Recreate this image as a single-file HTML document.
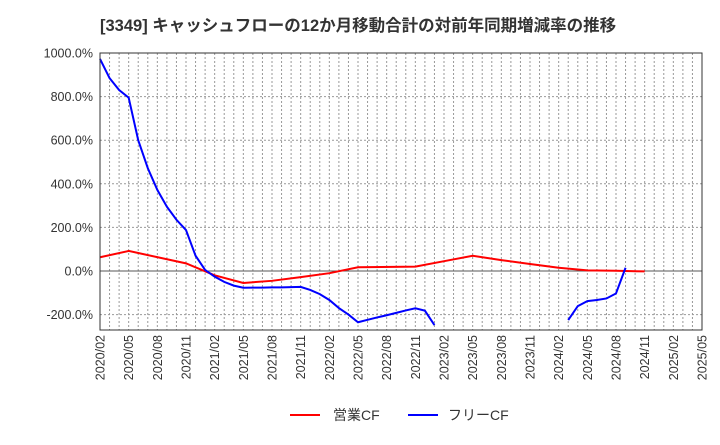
<!DOCTYPE html>
<html><head><meta charset="utf-8"><style>
body{margin:0;background:#fff;width:720px;height:440px;overflow:hidden;font-family:"Liberation Sans","Noto Sans CJK JP",sans-serif;}
</style></head><body>
<svg id="chart" width="720" height="440" xmlns="http://www.w3.org/2000/svg" font-family="Liberation Sans, Noto Sans CJK JP, sans-serif">
<text x="100" y="31" font-size="16.5" font-weight="bold" fill="#333">[3349]  キャッシュフローの12か月移動合計の対前年同期増減率の推移</text>
<g id="grid"></g>
<g id="series"></g>
<g id="axes"></g>
<g>
<line x1="290" y1="415" x2="320" y2="415" stroke="#f00" stroke-width="2"/>
<text x="333" y="420" font-size="14" fill="#333">営業CF</text>
<line x1="408" y1="415" x2="438" y2="415" stroke="#00f" stroke-width="2"/>
<text x="448" y="420" font-size="14" fill="#333">フリーCF</text>
</g>
</svg>
<script>
const yTicks=[1000,800,600,400,200,0,-200];
const xLabels=["2020/02","2020/05","2020/08","2020/11","2021/02","2021/05","2021/08","2021/11","2022/02","2022/05","2022/08","2022/11","2023/02","2023/05","2023/08","2023/11","2024/02","2024/05","2024/08","2024/11","2025/02","2025/05"];
const opMonths=[0,3,9,12,15,18,21,24,27,33,36,39,42,45,48,51,54,57];
const opValues=[63,92,35,-20,-55,-45,-28,-10,17,20,45,70,50,32,15,3,1,-2];
const fcfValues=[973,885,830,795,600,472,372,295,235,188,70,5,-26,-50,-67,-77,-76,-76,-75,-75,-74,-73,-87,-106,-133,-170,-200,-235,-224,-213,-203,-192,-181,-171,-182,-248,null,null,null,null,null,null,null,null,null,null,null,null,null,-225,-161,-138,-133,-126,-103,15];
const NS="http://www.w3.org/2000/svg";
const L=100,R=702,T=53,B=330,months=63;
const xs=m=>L+(R-L)*m/months;
const ys=v=>271-(271-53)*v/1000;
function mk(tag,attrs,parent){const e=document.createElementNS(NS,tag);for(const k in attrs)e.setAttribute(k,attrs[k]);parent.appendChild(e);return e;}
const grid=document.getElementById('grid'),axes=document.getElementById('axes'),ser=document.getElementById('series');
for(let m=1;m<months;m++){const l=mk('line',{x1:xs(m),x2:xs(m),y1:T,y2:B,stroke:'#999','stroke-dasharray':'2,2','stroke-width':1},grid);

}
yTicks.forEach(v=>{const y=ys(v);
const l=mk('line',{x1:L,x2:R,y1:y,y2:y,stroke:v===0?'#555':'#999','stroke-dasharray':v===0?'':'2,2','stroke-width':1},grid);


const t=mk('text',{x:L-7,y:y+4.5,'text-anchor':'end','font-size':12.5,fill:'#333'},axes);t.textContent=v.toFixed(1)+'%';

});
xLabels.forEach((s,i)=>{const x=xs(i*3);
const t=mk('text',{x:0,y:0,transform:`translate(${x+4.5},${B+5}) rotate(-90)`,'text-anchor':'end','font-size':12.5,fill:'#333'},axes);t.textContent=s;

});
const fr=mk('rect',{x:L,y:T,width:R-L,height:B-T,fill:'none',stroke:'#333','stroke-width':1},axes);


const op=mk('polyline',{points:opMonths.map((m,i)=>xs(m)+','+ys(opValues[i])).join(' '),fill:'none',stroke:'#f00','stroke-width':2},ser);


let segs=[],cur=[];
fcfValues.forEach((v,m)=>{if(v===null){if(cur.length)segs.push(cur);cur=[];}else cur.push(xs(m)+','+ys(v));});
if(cur.length)segs.push(cur);
segs.forEach(s=>{const p=mk('polyline',{points:s.join(' '),fill:'none',stroke:'#00f','stroke-width':2},ser);

});
</script>
</body></html>
